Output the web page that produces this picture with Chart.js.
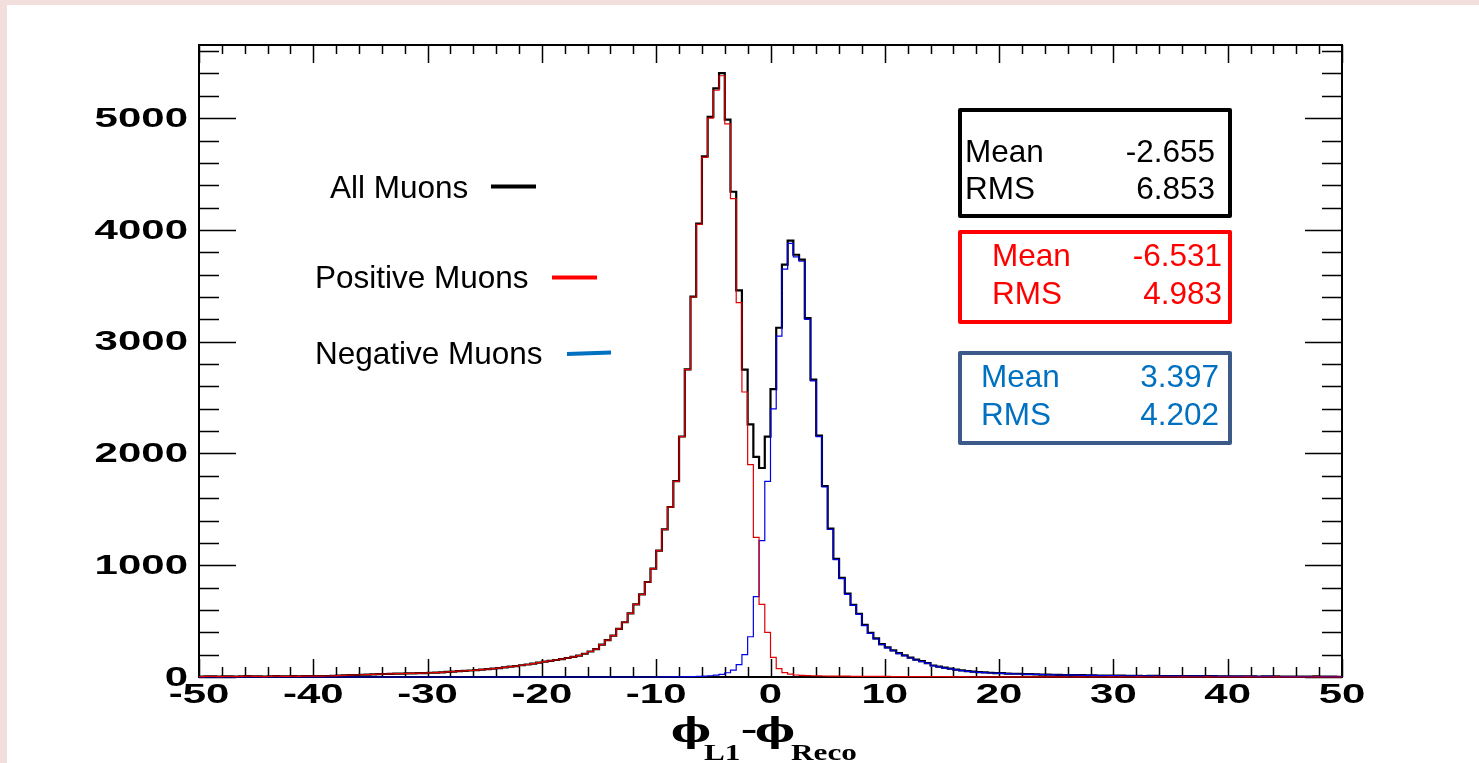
<!DOCTYPE html>
<html><head><meta charset="utf-8">
<script src="https://cdn.jsdelivr.net/npm/chart.js@4.4.1/dist/chart.umd.min.js"></script>
<style>html,body{margin:0;padding:0;background:#fff;overflow:hidden}canvas{display:block}</style>
</head><body><canvas id="c" width="1479" height="763"></canvas>
<script>
// Histogram binning: 200 bins from -50 to 50
const binLow = -50, binWidth = 0.5;

const positiveMuons = [
  4,6,5,3,5,6,4,5,7,5,
  6,4,6,7,5,6,8,6,7,8,
  7,8,9,10,12,14,16,18,20,22,
  24,25,27,28,30,31,33,32,34,35,
  38,40,42,45,48,52,55,58,62,66,
  70,75,80,86,92,98,105,112,120,128,
  138,145,152,160,170,180,192,208,228,250,
  290,330,370,430,490,570,650,740,850,970,
  1130,1320,1520,1750,2150,2750,3400,4050,4650,5000,
  5250,5380,4950,4280,3350,2550,1900,1250,650,400,
  175,75,40,25,18,15,12,11,10,9,
  8,8,7,7,6,6,6,5,5,5,
  5,4,4,4,4,3,4,3,3,3,
  3,3,2,3,2,2,2,2,2,1,
  2,1,1,2,1,1,1,1,1,1,
  1,1,0,1,1,0,1,0,0,1,
  0,1,0,0,1,0,0,1,0,0,
  0,0,1,0,0,0,1,0,0,0,
  0,0,0,1,0,0,0,0,1,0,
  0,0,0,0,0,1,0,0,0,0
];

const negativeMuons = [
  0,0,0,0,0,0,0,0,0,0,
  0,0,0,0,0,0,0,0,0,0,
  0,0,0,0,0,0,0,0,0,0,
  0,0,0,0,0,0,0,0,0,0,
  0,0,0,0,0,0,0,0,0,0,
  0,0,0,0,0,0,0,0,0,0,
  0,0,0,0,0,0,0,0,0,0,
  0,0,0,0,0,0,0,0,0,0,
  0,1,1,2,2,3,4,6,8,11,
  16,24,38,62,110,200,360,720,1220,1750,
  2400,3050,3650,3880,3760,3720,3200,2650,2150,1700,
  1320,1050,880,740,640,560,460,390,340,290,
  260,235,210,190,170,152,138,122,100,90,
  80,72,64,57,50,46,42,39,36,34,
  32,30,28,27,25,24,23,21,20,19,
  18,17,16,16,15,14,14,13,13,12,
  12,11,11,10,10,9,10,9,8,9,
  8,8,7,8,7,7,6,7,6,6,
  6,5,6,5,5,4,5,5,4,4,
  4,4,3,4,3,4,3,3,3,2
];

const allMuons = [
  4,6,5,3,5,6,4,5,7,5,
  6,4,6,7,5,6,8,6,7,8,
  7,8,9,10,12,14,16,18,20,22,
  24,25,27,28,30,31,33,32,34,35,
  38,40,42,45,48,52,55,58,62,66,
  70,75,80,86,92,98,105,112,120,128,
  138,145,152,160,170,180,192,208,228,250,
  290,330,370,430,490,570,650,740,850,970,
  1130,1321,1521,1752,2152,2753,3404,4056,4658,5011,
  5266,5404,4988,4342,3460,2750,2260,1970,1870,2150,
  2575,3125,3690,3905,3778,3735,3212,2661,2160,1709,
  1328,1058,887,747,646,566,466,395,345,295,
  265,239,214,194,174,155,142,125,103,93,
  83,75,66,60,52,48,44,41,38,35,
  34,31,29,29,26,25,24,22,21,20,
  19,18,16,17,16,14,15,13,13,13,
  12,12,11,10,11,9,10,10,8,9,
  8,8,8,8,7,7,7,7,6,6,
  6,5,6,6,5,4,5,5,5,4,
  4,4,3,4,3,5,3,3,3,2
];

const xTickValues = [-50,-40,-30,-20,-10,0,10,20,30,40,50];
const xTickLabels = ['-50','-40','-30','-20','-10','0','10','20','30','40','50'];
const xMinorStep = 2;
const yTickValues = [0,1000,2000,3000,4000,5000];
const yTickLabels = ['0','1000','2000','3000','4000','5000'];
const yMinorStep = 200;
const xRange = [-50, 50];
const yRange = [0, 5655];

const legendLabels = ['All Muons','Positive Muons','Negative Muons'];
const statNames = ['Mean','RMS'];
const statMean = ['-2.655','-6.531','3.397'];
const statRMS = ['6.853','4.983','4.202'];

function toPoints(values){
  const pts = values.map((v,i)=>({x: binLow + i*binWidth, y: v}));
  pts.push({x: binLow + values.length*binWidth, y: values[values.length-1]});
  return pts;
}

function stretchedText(ctx, text, x, y, sx, align, baseline, font, color){
  ctx.save();
  ctx.font = font; ctx.fillStyle = color;
  ctx.textAlign = align; ctx.textBaseline = baseline;
  ctx.translate(x, y); ctx.scale(sx, 1);
  ctx.fillText(text, 0, 0);
  ctx.restore();
}

const decor = {
  id: 'decor',
  beforeDraw(chart){
    const ctx = chart.ctx;
    ctx.save();
    ctx.fillStyle = '#f3dede';
    ctx.fillRect(0,0,chart.width,chart.height);
    ctx.fillStyle = '#ffffff';
    ctx.fillRect(7,5,chart.width-7,chart.height-5);
    ctx.restore();
  },
  beforeDatasetsDraw(chart){
    const ctx = chart.ctx, a = chart.chartArea;
    const xs = chart.scales.x, ys = chart.scales.y;
    ctx.save();
    ctx.strokeStyle = '#000'; ctx.lineWidth = 2;
    ctx.strokeRect(a.left, a.top, a.right-a.left, a.bottom-a.top);
    ctx.lineWidth = 1.5;
    ctx.beginPath();
    for(let v = xRange[0]; v <= xRange[1]; v += xMinorStep){
      const px = Math.round(xs.getPixelForValue(v)) + 0.5;
      const major = xTickValues.includes(v);
      const len = major ? 18 : 10;
      ctx.moveTo(px, a.bottom); ctx.lineTo(px, a.bottom - len);
      ctx.moveTo(px, a.top); ctx.lineTo(px, a.top + (major ? 18 : 9));
    }
    for(let v = yRange[0]; v <= yRange[1]; v += yMinorStep){
      const py = Math.round(ys.getPixelForValue(v)) + 0.5;
      const major = yTickValues.includes(v);
      const len = major ? 37 : 20;
      ctx.moveTo(a.left, py); ctx.lineTo(a.left + len, py);
      ctx.moveTo(a.right, py); ctx.lineTo(a.right - len, py);
    }
    ctx.stroke();
    ctx.restore();
  },
  afterDraw(chart){
    const ctx = chart.ctx, a = chart.chartArea;
    const xs = chart.scales.x, ys = chart.scales.y;
    const tickFont = 'bold 28px "Liberation Sans", Arial, sans-serif';
    yTickValues.forEach((v,i)=>{
      stretchedText(ctx, yTickLabels[i], 188, ys.getPixelForValue(v)+1, 1.5, 'right', 'middle', tickFont, '#000');
    });
    xTickValues.forEach((v,i)=>{
      stretchedText(ctx, xTickLabels[i], xs.getPixelForValue(v), 703, 1.5, 'center', 'alphabetic', tickFont, '#000');
    });
    // axis title  phi_L1 - phi_Reco
    const serifBig = 'bold 34px "DejaVu Serif", serif';
    const serifSmall = 'bold 24px "Liberation Serif", "Times New Roman", serif';
    stretchedText(ctx, '\u03D5', 671, 742, 1.25, 'left', 'alphabetic', serifBig, '#000');
    stretchedText(ctx, 'L1', 704, 760, 1.3, 'left', 'alphabetic', serifSmall, '#000');
    stretchedText(ctx, '-', 741, 740, 1.35, 'left', 'alphabetic', 'bold 36px "Liberation Serif", serif', '#000');
    stretchedText(ctx, '\u03D5', 755, 742, 1.25, 'left', 'alphabetic', serifBig, '#000');
    stretchedText(ctx, 'Reco', 791, 760, 1.3, 'left', 'alphabetic', serifSmall, '#000');

    // legend
    const sans = '31.5px "Liberation Sans", Arial, sans-serif';
    const legendItems = [
      {text: legendLabels[0], x: 330, y: 198, color: '#000000', lx1: 491, lx2: 536, ly1: 186.5, ly2: 186.5},
      {text: legendLabels[1], x: 315, y: 288, color: '#ff0000', lx1: 552, lx2: 597, ly1: 277.5, ly2: 277.5},
      {text: legendLabels[2], x: 315, y: 364, color: '#0070c0', lx1: 567, lx2: 611, ly1: 354, ly2: 352.5}
    ];
    legendItems.forEach(it=>{
      stretchedText(ctx, it.text, it.x, it.y, 1, 'left', 'alphabetic', sans, '#000');
      ctx.save(); ctx.strokeStyle = it.color; ctx.lineWidth = 4;
      ctx.beginPath(); ctx.moveTo(it.lx1, it.ly1); ctx.lineTo(it.lx2, it.ly2); ctx.stroke(); ctx.restore();
    });

    // stat boxes
    const boxes = [
      {y1: 110, y2: 216, border: '#000000', text: '#000000', lx: 965, rx: 1215, b1: 162, b2: 199},
      {y1: 232, y2: 322, border: '#ff0000', text: '#ff0000', lx: 992, rx: 1222, b1: 266, b2: 304},
      {y1: 353, y2: 443, border: '#3b5a89', text: '#0070c0', lx: 981, rx: 1219, b1: 387, b2: 425}
    ];
    boxes.forEach((b,i)=>{
      ctx.save();
      ctx.strokeStyle = b.border; ctx.lineWidth = 4; ctx.lineJoin = 'round';
      ctx.strokeRect(960, b.y1, 270, b.y2 - b.y1);
      ctx.restore();
      stretchedText(ctx, statNames[0], b.lx, b.b1, 1, 'left', 'alphabetic', sans, b.text);
      stretchedText(ctx, statMean[i], b.rx, b.b1, 1, 'right', 'alphabetic', sans, b.text);
      stretchedText(ctx, statNames[1], b.lx, b.b2, 1, 'left', 'alphabetic', sans, b.text);
      stretchedText(ctx, statRMS[i], b.rx, b.b2, 1, 'right', 'alphabetic', sans, b.text);
    });
  }
};

const common = {stepped: true, pointRadius: 0, tension: 0, fill: false, clip: 4};
new Chart(document.getElementById('c').getContext('2d'), {
  type: 'line',
  data: {datasets: [
    Object.assign({label: legendLabels[1], data: toPoints(positiveMuons), borderColor: '#e00000', borderWidth: 1.2, order: 1}, common),
    Object.assign({label: legendLabels[2], data: toPoints(negativeMuons), borderColor: '#0000e6', borderWidth: 1.2, order: 2}, common),
    Object.assign({label: legendLabels[0], data: toPoints(allMuons), borderColor: '#000000', borderWidth: 2.2, order: 3}, common)
  ]},
  options: {
    responsive: false, animation: false, devicePixelRatio: 1, events: [],
    layout: {padding: {left: 199, top: 45, right: 137, bottom: 86}},
    plugins: {legend: {display: false}, tooltip: {enabled: false}},
    scales: {
      x: {type: 'linear', min: xRange[0], max: xRange[1], display: false},
      y: {type: 'linear', min: yRange[0], max: yRange[1], display: false}
    }
  },
  plugins: [decor]
});
</script>
</body></html>
